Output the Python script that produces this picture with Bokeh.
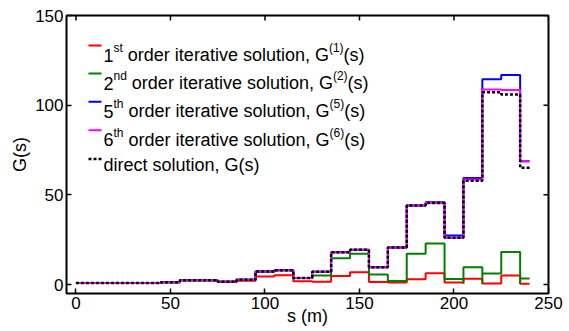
import numpy as np
from bokeh.plotting import figure
from bokeh.models import ColumnDataSource, Label, FixedTicker, Range1d
from bokeh.embed import file_html
from bokeh.resources import INLINE

# ---------------- data ----------------
# segment centres in m; each value holds from centre-5 to centre+5 (clipped to 0..240)
s_centres = [0, 10, 20, 30, 40, 50, 60, 70, 80, 90, 100, 110, 120,
             130, 140, 150, 160, 170, 180, 190, 200, 210, 220, 230, 240]

g_direct = [0.8, 0.8, 0.8, 0.8, 0.8, 1.3, 2.4, 2.4, 1.5, 2.6, 7.2, 8.0, 3.7,
            7.1, 18.0, 19.4, 9.6, 20.7, 44.1, 45.4, 26.1, 57.8, 107.2, 106.0, 65.1]
g_1st = [0.8, 0.8, 0.8, 0.8, 0.8, 1.3, 2.4, 2.4, 1.5, 2.1, 4.5, 5.2, 1.8,
         1.5, 4.8, 6.8, 1.4, 1.1, 2.9, 6.3, 1.1, 3.2, 0.6, 5.0, 0.5]
g_2nd = [0.8, 0.8, 0.8, 0.8, 0.8, 1.3, 2.4, 2.4, 1.5, 2.6, 7.2, 8.0, 3.7,
         5.0, 14.7, 17.2, 5.6, 2.0, 17.1, 22.9, 3.1, 9.7, 6.2, 18.1, 3.3]
g_5th = [0.8, 0.8, 0.8, 0.8, 0.8, 1.3, 2.4, 2.4, 1.5, 2.6, 7.2, 8.0, 3.7,
         7.1, 18.0, 19.4, 9.6, 20.7, 44.1, 45.9, 27.4, 59.4, 114.5, 116.8, 68.7]
g_6th = [0.8, 0.8, 0.8, 0.8, 0.8, 1.3, 2.4, 2.4, 1.5, 2.6, 7.2, 8.0, 3.7,
         7.1, 18.0, 19.4, 9.6, 20.7, 44.1, 45.4, 26.1, 58.5, 108.7, 108.4, 68.7]
# short dips of the 2nd-order curve at some segment boundaries
g_2nd_dip_at = [205, 215, 235]
g_2nd_dip_value = 0.5

x_ticks = [0, 50, 100, 150, 200, 250]
y_ticks = [0, 50, 100, 150]

legend_orders = ["1", "2", "5", "6"]
legend_suffix = ["st", "nd", "th", "th"]
legend_mid = "order iterative solution, G"
legend_sup = ["(1)", "(2)", "(5)", "(6)"]
legend_end = "(s)"
legend_direct = "direct solution, G(s)"

x_label = "s (m)"
y_label = "G(s)"


def stairs(centres, vals, dips=(), dip=0.0):
    xs, ys = [], []
    lo, hi = centres[0], centres[-1]
    for i, (c, v) in enumerate(zip(centres, vals)):
        left = max(c - 5, lo)
        right = min(c + 5, hi)
        if i > 0 and left in dips:
            xs.append(left)
            ys.append(dip)
        xs += [left, right]
        ys += [v, v]
    return xs, ys


FONT = "Liberation Sans"
X0, X1, Y0, Y1 = -5, 250, -5, 150

p = figure(width=569, height=331,
           x_range=Range1d(X0, X1), y_range=Range1d(Y0, Y1),
           output_backend="svg", toolbar_location=None,
           min_border_left=66, min_border_right=21,
           min_border_top=15, min_border_bottom=38)
p.background_fill_color = "white"
p.border_fill_color = "white"
p.grid.visible = False
p.outline_line_color = "black"
p.outline_line_width = 2
p.outline_line_alpha = 1.0

for ax, ticks in ((p.xaxis[0], x_ticks), (p.yaxis[0], y_ticks)):
    ax.ticker = FixedTicker(ticks=ticks)
    ax.axis_line_color = None
    ax.major_tick_in = 5
    ax.major_tick_out = 0
    ax.major_tick_line_width = 1.5
    ax.minor_tick_line_color = None
    ax.major_label_text_font = FONT
    ax.major_label_text_font_size = "17px"
    ax.major_label_text_color = "black"
    ax.major_label_standoff = 3
    ax.axis_label_text_font = FONT
    ax.axis_label_text_font_size = "18px"
    ax.axis_label_text_font_style = "normal"
    ax.axis_label_text_color = "black"

p.xaxis.axis_label = x_label
p.xaxis.axis_label_standoff = -6
p.yaxis.axis_label = y_label
p.yaxis.axis_label_standoff = 2

# inward ticks on the top and right edges of the box
p.ray(x=x_ticks, y=[Y1] * len(x_ticks), length=5, length_units="screen",
      angle=-np.pi / 2, line_color="black", line_width=1.5)
p.ray(x=[X1] * len(y_ticks), y=y_ticks, length=5, length_units="screen",
      angle=np.pi, line_color="black", line_width=1.5)

series = [
    (g_1st, "#FF0000", (), 0.0),
    (g_2nd, "#008000", g_2nd_dip_at, g_2nd_dip_value),
    (g_5th, "#0000FF", (), 0.0),
    (g_6th, "#FF00FF", (), 0.0),
]
for vals, col, dips, dip in series:
    xs, ys = stairs(s_centres, vals, dips, dip)
    src = ColumnDataSource(dict(x=xs, y=ys))
    p.line("x", "y", source=src, line_color=col, line_width=2)

xs, ys = stairs(s_centres, g_direct)
p.line("x", "y", source=ColumnDataSource(dict(x=xs, y=ys)),
       line_color="black", line_width=2.5, line_dash="3 2")

# ---------------- legend built from text pieces ----------------
W = {"0": .556, "1": .556, "2": .556, "5": .556, "6": .556, " ": .278,
     "(": .333, ")": .333, ",": .278, "G": .778, "a": .556, "c": .5,
     "d": .556, "e": .556, "h": .556, "i": .222, "l": .222, "n": .556,
     "o": .556, "r": .333, "s": .5, "t": .278, "u": .556, "v": .5}


def tw(s, size):
    return sum(W.get(ch, .556) for ch in s) * size


FL, FB = 66, 293          # frame left / bottom in canvas pixels
MAIN, SUP = 18, 12


def put(text, px, py, size, **kw):
    p.add_layout(Label(x=px - FL, y=FB - py, x_units="screen", y_units="screen",
                       text=text, text_font=FONT, text_font_size=f"{size}px",
                       text_color="black", text_baseline="alphabetic", **kw))


def px2x(px):
    return X0 + (px - FL) * (X1 - X0) / 482.0


def py2y(py):
    return Y0 + (FB - py) * (Y1 - Y0) / 278.0


colors = ["#FF0000", "#008000", "#0000FF", "#FF00FF"]
baselines = [54.5, 82.5, 110.8, 139.2]
x0 = 103
for i in range(4):
    by = baselines[i]
    xx = x0
    put(legend_orders[i], xx, by, MAIN)
    xx += tw(legend_orders[i], MAIN)
    put(legend_suffix[i], xx, by - 7.2, SUP)
    xx += tw(legend_suffix[i], SUP) + tw(" ", MAIN)
    put(legend_mid, xx, by, MAIN)
    xx += tw(legend_mid, MAIN)
    put(legend_sup[i], xx, by - 7.2, SUP)
    xx += tw(legend_sup[i], SUP)
    put(legend_end, xx, by, MAIN)
    ly = by - 9.5
    p.line(x=[px2x(88), px2x(101)], y=[py2y(ly), py2y(ly)],
           line_color=colors[i], line_width=2)

put(legend_direct, x0, 164.5, MAIN)
p.line(x=[px2x(88), px2x(101)], y=[py2y(158.5), py2y(158.5)],
       line_color="black", line_width=2.5, line_dash="3 2")

open("out.html", "w").write(file_html(p, INLINE))
